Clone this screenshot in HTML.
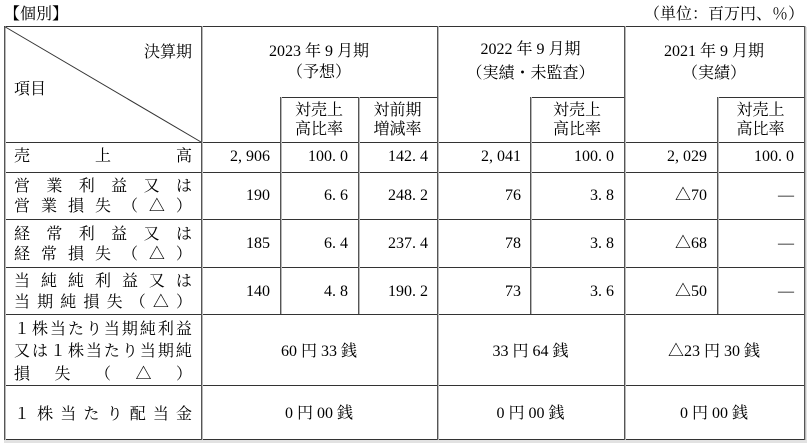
<!DOCTYPE html>
<html>
<head>
<meta charset="utf-8">
<style>
html,body{margin:0;padding:0;background:#fff;}
body{width:807px;height:443px;position:relative;overflow:hidden;
font-family:"Liberation Serif","Noto Serif CJK SC","Noto Serif CJK JP",serif;font-size:16px;color:#000;}
.h{position:absolute;height:1px;background:#333;}
.v{position:absolute;width:1px;background:#555;box-shadow:1px 0 0 #b8b8b8;}
.t{position:absolute;height:20px;line-height:20px;white-space:nowrap;}
.r{text-align:right;}
.ctr{text-align:center;}
.l{position:absolute;left:14px;width:178px;height:20px;line-height:20px;display:flex;justify-content:space-between;white-space:nowrap;}
.c{display:inline-block;width:8px;text-align:left;}
</style>
</head>
<body>
<!-- titles -->
<div class="t" style="left:4px;top:5px;">【個別】</div>
<div class="t r" style="left:560px;width:244px;top:5px;">（単位：百万円、％）</div>

<!-- light outer shade -->
<div style="position:absolute;left:805px;top:27px;width:2px;height:416px;background:#e2e2e2;"></div>
<div style="position:absolute;left:4px;top:440px;width:803px;height:3px;background:#e2e2e2;"></div>

<!-- horizontal lines -->
<div class="h" style="left:4px;top:26px;width:801px;"></div>
<div class="h" style="left:280px;top:97px;width:157px;"></div>
<div class="h" style="left:530px;top:97px;width:94px;"></div>
<div class="h" style="left:717px;top:97px;width:87px;"></div>
<div class="h" style="left:4px;top:142px;width:801px;"></div>
<div class="h" style="left:4px;top:172px;width:801px;"></div>
<div class="h" style="left:4px;top:219px;width:801px;"></div>
<div class="h" style="left:4px;top:267px;width:801px;"></div>
<div class="h" style="left:4px;top:314px;width:801px;"></div>
<div class="h" style="left:4px;top:385px;width:801px;"></div>
<div class="h" style="left:4px;top:439px;width:801px;"></div>

<!-- vertical lines -->
<div class="v" style="left:4px;top:26px;height:414px;"></div>
<div class="v" style="left:201px;top:26px;height:414px;"></div>
<div class="v" style="left:280px;top:97px;height:217px;"></div>
<div class="v" style="left:358px;top:97px;height:217px;"></div>
<div class="v" style="left:437px;top:26px;height:414px;"></div>
<div class="v" style="left:530px;top:97px;height:217px;"></div>
<div class="v" style="left:624px;top:26px;height:414px;"></div>
<div class="v" style="left:717px;top:97px;height:217px;"></div>
<div class="v" style="left:804px;top:26px;height:414px;"></div>

<!-- diagonal -->
<svg style="position:absolute;left:0;top:0;" width="807" height="443">
<line x1="4.5" y1="26.5" x2="201" y2="142" stroke="#333" stroke-width="1"/>
</svg>

<!-- header -->
<div class="t r" style="left:100px;width:92px;top:43px;">決算期</div>
<div class="t" style="left:14px;top:80px;">項目</div>

<div class="t ctr" style="left:201px;width:236px;top:42px;">2023 年 9 月期</div>
<div class="t ctr" style="left:201px;width:236px;top:63px;">（予想）</div>
<div class="t ctr" style="left:437px;width:187px;top:40px;">2022 年 9 月期</div>
<div class="t ctr" style="left:437px;width:187px;top:64px;">（実績・未監査）</div>
<div class="t ctr" style="left:624px;width:180px;top:42px;">2021 年 9 月期</div>
<div class="t ctr" style="left:624px;width:180px;top:64px;">（実績）</div>

<div class="t ctr" style="left:280px;width:78px;top:101px;">対売上</div>
<div class="t ctr" style="left:280px;width:78px;top:120px;">高比率</div>
<div class="t ctr" style="left:358px;width:79px;top:101px;">対前期</div>
<div class="t ctr" style="left:358px;width:79px;top:120px;">増減率</div>
<div class="t ctr" style="left:530px;width:94px;top:101px;">対売上</div>
<div class="t ctr" style="left:530px;width:94px;top:120px;">高比率</div>
<div class="t ctr" style="left:717px;width:87px;top:101px;">対売上</div>
<div class="t ctr" style="left:717px;width:87px;top:120px;">高比率</div>

<!-- row labels -->
<div class="l" style="top:147px;"><span>売</span><span>上</span><span>高</span></div>

<div class="l" style="top:177px;"><span>営</span><span>業</span><span>利</span><span>益</span><span>又</span><span>は</span></div>
<div class="l" style="top:197px;"><span>営</span><span>業</span><span>損</span><span>失</span><span>（</span><span>△</span><span>）</span></div>

<div class="l" style="top:225px;"><span>経</span><span>常</span><span>利</span><span>益</span><span>又</span><span>は</span></div>
<div class="l" style="top:245px;"><span>経</span><span>常</span><span>損</span><span>失</span><span>（</span><span>△</span><span>）</span></div>

<div class="l" style="top:272px;"><span>当</span><span>純</span><span>純</span><span>利</span><span>益</span><span>又</span><span>は</span></div>
<div class="l" style="top:293px;"><span>当</span><span>期</span><span>純</span><span>損</span><span>失</span><span>（</span><span>△</span><span>）</span></div>

<div class="l" style="top:320px;"><span>１</span><span>株</span><span>当</span><span>た</span><span>り</span><span>当</span><span>期</span><span>純</span><span>利</span><span>益</span></div>
<div class="l" style="top:342px;"><span>又</span><span>は</span><span>１</span><span>株</span><span>当</span><span>た</span><span>り</span><span>当</span><span>期</span><span>純</span></div>
<div class="l" style="top:365px;"><span>損</span><span>失</span><span>（</span><span>△</span><span>）</span></div>

<div class="l" style="top:405px;"><span>１</span><span>株</span><span>当</span><span>た</span><span>り</span><span>配</span><span>当</span><span>金</span></div>

<!-- row 1 values -->
<div class="t r" style="left:201px;width:69px;top:147px;">2<span class="c">,</span>906</div>
<div class="t r" style="left:280px;width:68px;top:147px;">100<span class="c">.</span>0</div>
<div class="t r" style="left:358px;width:70px;top:147px;">142<span class="c">.</span>4</div>
<div class="t r" style="left:437px;width:84px;top:147px;">2<span class="c">,</span>041</div>
<div class="t r" style="left:530px;width:84px;top:147px;">100<span class="c">.</span>0</div>
<div class="t r" style="left:624px;width:83px;top:147px;">2<span class="c">,</span>029</div>
<div class="t r" style="left:717px;width:77px;top:147px;">100<span class="c">.</span>0</div>

<!-- row 2 -->
<div class="t r" style="left:201px;width:69px;top:186px;">190</div>
<div class="t r" style="left:280px;width:68px;top:186px;">6<span class="c">.</span>6</div>
<div class="t r" style="left:358px;width:70px;top:186px;">248<span class="c">.</span>2</div>
<div class="t r" style="left:437px;width:84px;top:186px;">76</div>
<div class="t r" style="left:530px;width:84px;top:186px;">3<span class="c">.</span>8</div>
<div class="t r" style="left:624px;width:83px;top:186px;">△70</div>
<div class="t r" style="left:717px;width:77px;top:186px;">—</div>

<!-- row 3 -->
<div class="t r" style="left:201px;width:69px;top:234px;">185</div>
<div class="t r" style="left:280px;width:68px;top:234px;">6<span class="c">.</span>4</div>
<div class="t r" style="left:358px;width:70px;top:234px;">237<span class="c">.</span>4</div>
<div class="t r" style="left:437px;width:84px;top:234px;">78</div>
<div class="t r" style="left:530px;width:84px;top:234px;">3<span class="c">.</span>8</div>
<div class="t r" style="left:624px;width:83px;top:234px;">△68</div>
<div class="t r" style="left:717px;width:77px;top:234px;">—</div>

<!-- row 4 -->
<div class="t r" style="left:201px;width:69px;top:282px;">140</div>
<div class="t r" style="left:280px;width:68px;top:282px;">4<span class="c">.</span>8</div>
<div class="t r" style="left:358px;width:70px;top:282px;">190<span class="c">.</span>2</div>
<div class="t r" style="left:437px;width:84px;top:282px;">73</div>
<div class="t r" style="left:530px;width:84px;top:282px;">3<span class="c">.</span>6</div>
<div class="t r" style="left:624px;width:83px;top:282px;">△50</div>
<div class="t r" style="left:717px;width:77px;top:282px;">—</div>

<!-- row 5 -->
<div class="t ctr" style="left:201px;width:236px;top:342px;">60 円 33 銭</div>
<div class="t ctr" style="left:437px;width:187px;top:342px;">33 円 64 銭</div>
<div class="t ctr" style="left:624px;width:180px;top:342px;">△23 円 30 銭</div>

<!-- row 6 -->
<div class="t ctr" style="left:201px;width:236px;top:404px;">0 円 00 銭</div>
<div class="t ctr" style="left:437px;width:187px;top:404px;">0 円 00 銭</div>
<div class="t ctr" style="left:624px;width:180px;top:404px;">0 円 00 銭</div>
</body>
</html>
